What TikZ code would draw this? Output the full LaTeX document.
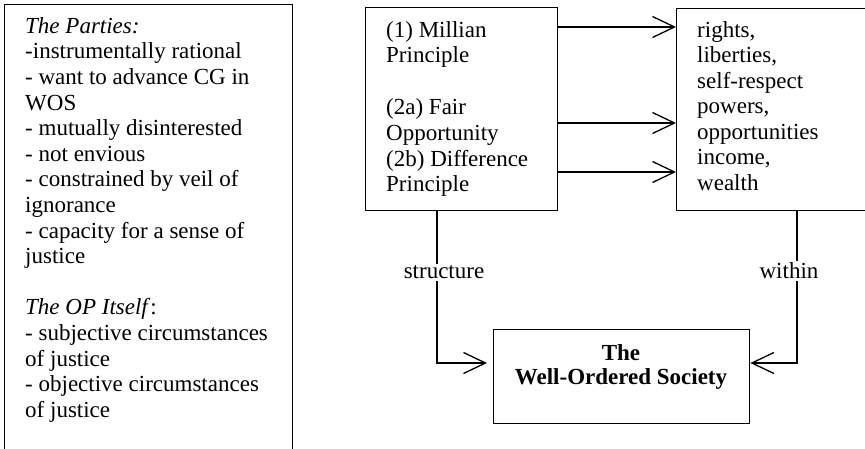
\documentclass[tikz,border=0pt]{standalone}
\usepackage{fontspec}
\setmainfont{Liberation Serif}
\usetikzlibrary{arrows.meta}
% strut that fixes the height of a node's first line
\newcommand{\firstline}{\rule{0pt}{18pt}}
\begin{document}
\begin{tikzpicture}[x=1pt,y=-1pt,
  box/.style={draw, line width=1.4pt, rectangle, inner sep=0pt, anchor=north west},
  txt/.style={anchor=north west, inner sep=0pt, align=left},
  flow/.style={line width=1.3pt,
               -{Straight Barb[length=22pt,width=21pt,line width=1.3pt]}},
  lab/.style={fill=white, inner sep=2pt, anchor=base,
              font=\fontsize{23}{23}\selectfont}]
\useasboundingbox (0,0) rectangle (865,449);
\clip (0,0) rectangle (865,449);

% boxes
\node[box, minimum width=288pt, minimum height=470pt] (parties) at (4,4) {};
\node[box, minimum width=192pt, minimum height=203pt] (principles) at (365,7) {};
\node[box, minimum width=214pt, minimum height=202pt] (goods) at (676,8) {};
\node[box, minimum width=256pt, minimum height=94pt] (wos) at (493,329) {};

% texts
\node[txt, font=\fontsize{23}{25.6}\selectfont] (partiestext) at (25,15)
{\firstline\textit{The Parties:}\\
-instrumentally rational\\
- want to advance CG in\\
WOS\\
- mutually disinterested\\
- not envious\\
- constrained by veil of\\
ignorance\\
- capacity for a sense of\\
justice\\
\mbox{}\\
\textit{The OP Itself}:\\
- subjective circumstances\\
of justice\\
- objective circumstances\\
of justice};

\node[txt, font=\fontsize{23}{25.8}\selectfont] (principlestext) at (386,19)
{\firstline(1) Millian\\
Principle\\
\mbox{}\\
(2a) Fair\\
Opportunity\\
(2b) Difference\\
Principle};

\node[txt, font=\fontsize{23}{25.5}\selectfont] (goodstext) at (697,19)
{\firstline rights,\\
liberties,\\
self-respect\\
powers,\\
opportunities\\
income,\\
wealth};

\node[txt, anchor=north, align=center, font=\bfseries\fontsize{23}{24}\selectfont]
  (wostext) at (621,342) {\firstline The\\Well-Ordered Society};

% connector heights
\coordinate (r1) at (0,27);
\coordinate (r2) at (0,123);
\coordinate (r3) at (0,172);
\coordinate (rw) at (0,363);
\coordinate (cl) at (437,0);
\coordinate (cr) at (797,0);

% principles to primary goods
\draw[flow] (principles.east |- r1) -- (goods.west |- r1);
\draw[flow] (principles.east |- r2) -- (goods.west |- r2);
\draw[flow] (principles.east |- r3) -- (goods.west |- r3);

% into the well-ordered society
\draw[flow, shorten >=6pt] (principles.south -| cl) |- (wos.west |- rw);
\draw[flow] (goods.south -| cr) |- (wos.east |- rw);

\node[lab] (structure) at (444,279) {structure};
\node[lab] (within) at (789,279) {within};
\end{tikzpicture}
\end{document}
